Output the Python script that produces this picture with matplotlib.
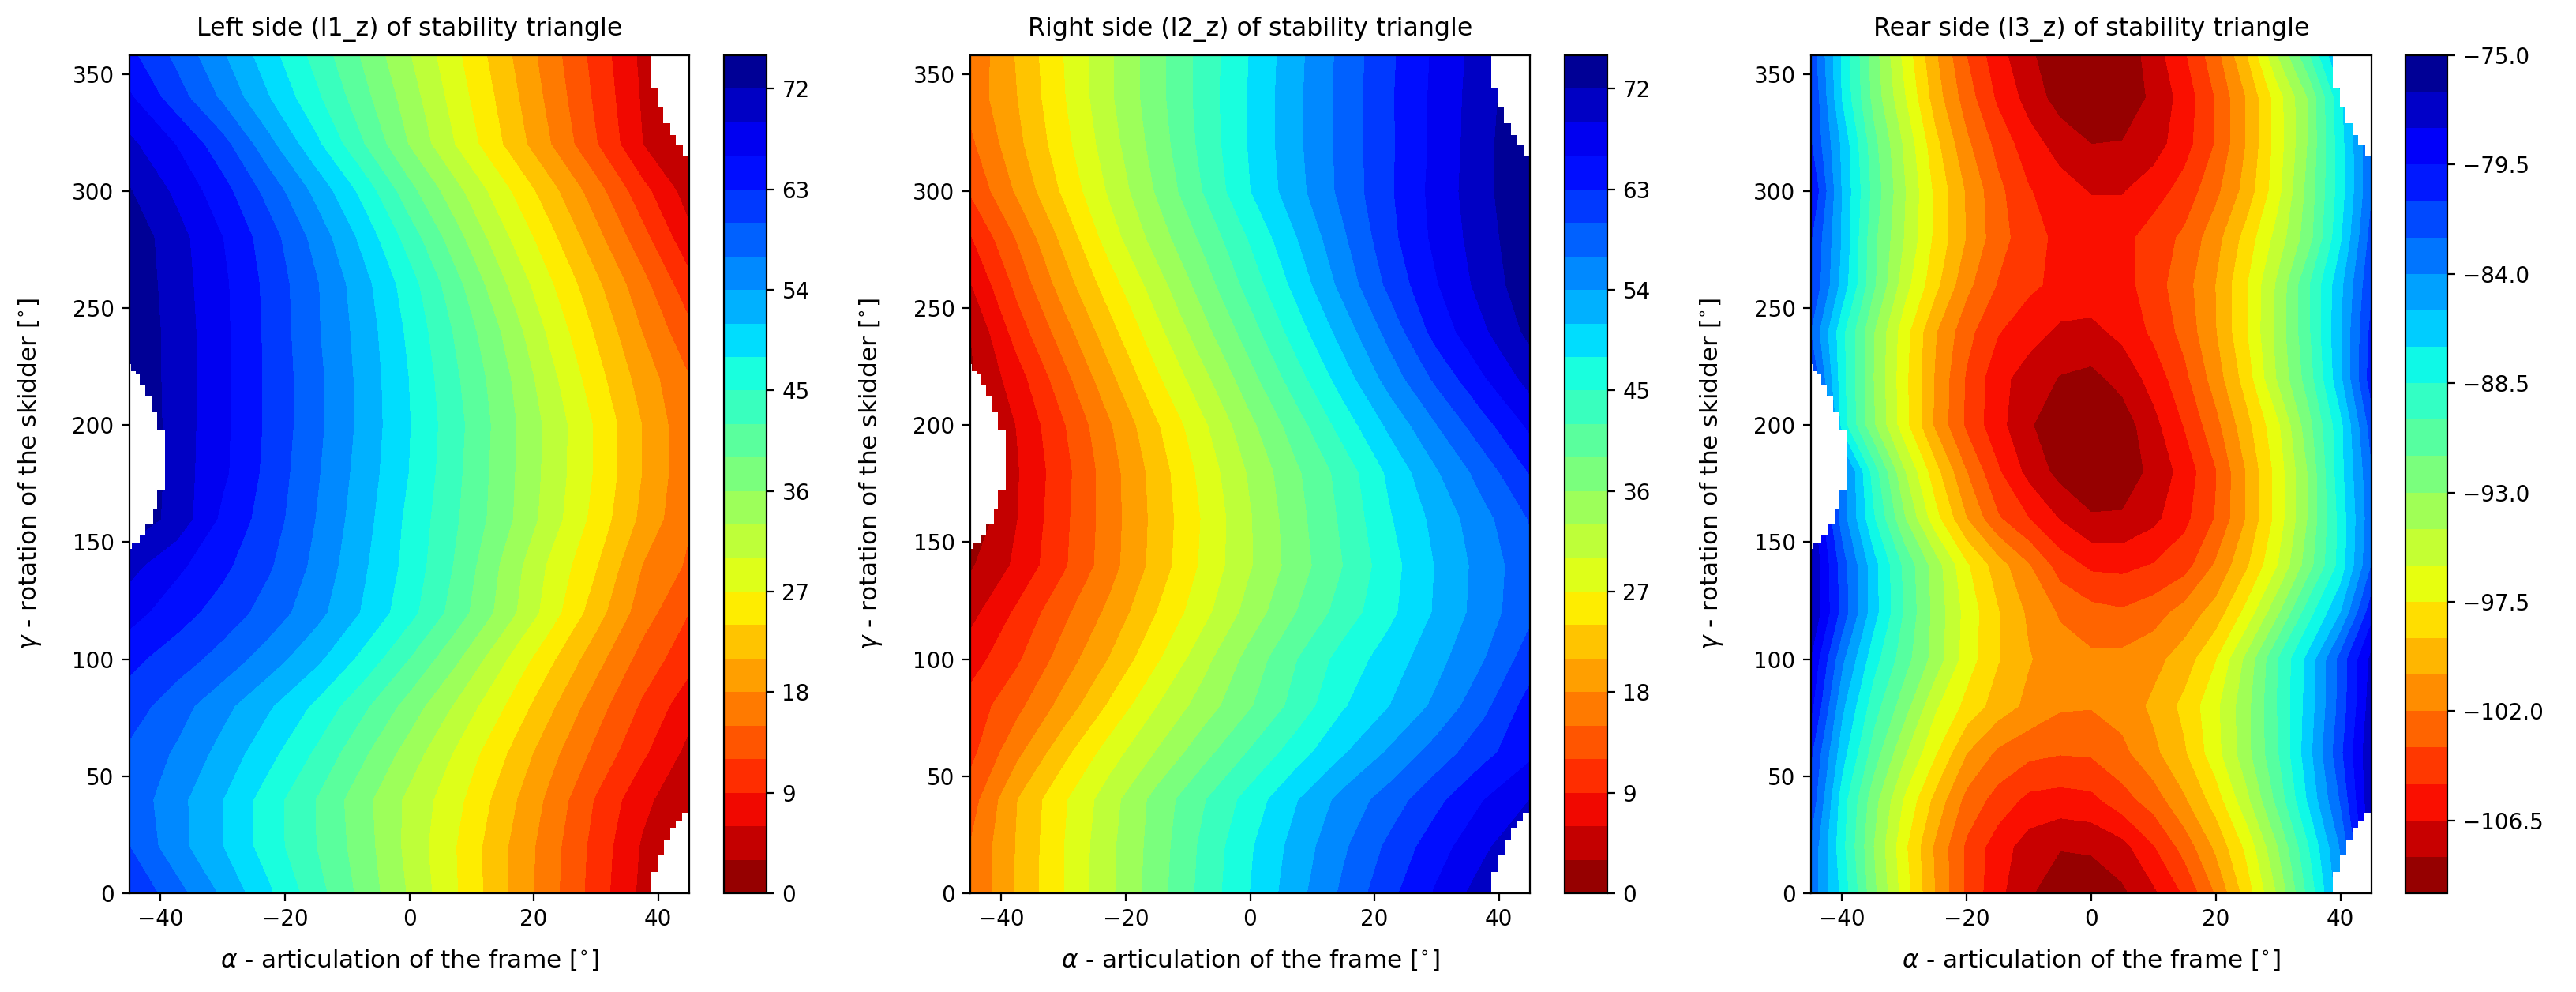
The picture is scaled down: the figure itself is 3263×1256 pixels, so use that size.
import matplotlib
matplotlib.use('Agg')
import matplotlib.pyplot as plt
import numpy as np

W, H = 3263, 1256

# sample points
alpha_12 = np.arange(-45, 45.1, 7.5)
alpha_3 = np.arange(-45, 45.1, 5)
gamma = np.arange(0, 361, 20)

l1_z = [
    [62.7, 58.2, 53.4, 48.4, 43.2, 38.0, 32.6, 27.2, 21.6, 16.2, 10.6, 5.2, 0.0],
    [60.0, 55.1, 51.0, 46.4, 42.0, 37.4, 32.0, 27.0, 21.6, 16.4, 10.9, 5.6, 1.5],
    [59.0, 55.0, 51.0, 46.4, 41.9, 37.0, 32.2, 27.9, 22.6, 17.3, 11.7, 6.8, 3.5],
    [59.4, 56.6, 52.9, 48.9, 44.5, 39.6, 34.6, 29.6, 24.5, 19.1, 14.2, 9.5, 5.1],
    [61.5, 58.3, 54.9, 51.3, 47.4, 42.7, 37.7, 32.5, 27.2, 21.7, 16.3, 11.5, 7.1],
    [63.8, 61.5, 58.8, 55.4, 51.7, 47.1, 41.9, 36.5, 30.5, 24.7, 19.1, 13.8, 10.0],
    [67.2, 64.3, 61.7, 58.7, 55.0, 50.7, 46.0, 40.6, 34.8, 28.6, 22.3, 16.4, 12.0],
    [70.0, 66.7, 63.7, 60.3, 56.2, 51.5, 46.9, 41.6, 35.5, 29.5, 24.2, 17.9, 14.5],
    [74.0, 71.0, 65.3, 61.5, 56.9, 52.2, 47.2, 42.3, 37.2, 31.6, 25.9, 20.2, 15.3],
    [75.5, 70.6, 66.6, 62.0, 57.4, 52.7, 47.9, 42.7, 37.4, 32.0, 26.6, 20.9, 15.7],
    [75.0, 70.7, 66.7, 62.3, 57.8, 53.1, 48.1, 43.0, 37.6, 32.1, 26.6, 20.9, 15.6],
    [74.7, 70.7, 66.7, 62.3, 57.8, 53.0, 47.9, 42.4, 37.0, 31.0, 25.2, 19.6, 15.1],
    [74.6, 70.7, 66.7, 62.2, 57.4, 52.7, 47.3, 41.5, 35.7, 29.4, 23.6, 17.9, 12.8],
    [74.4, 70.4, 66.6, 62.0, 57.3, 52.1, 46.3, 39.9, 33.5, 27.5, 21.7, 16.0, 10.0],
    [74.0, 70.2, 66.0, 61.3, 55.9, 50.1, 43.6, 37.1, 30.8, 25.0, 19.0, 13.0, 6.8],
    [72.2, 68.4, 64.1, 58.8, 53.1, 47.0, 40.0, 33.9, 28.0, 22.2, 16.3, 10.0, 4.5],
    [69.7, 65.9, 61.0, 54.8, 48.7, 42.2, 35.8, 29.8, 24.0, 18.2, 12.2, 6.0, 2.5],
    [66.4, 61.4, 56.4, 51.0, 45.6, 40.0, 34.4, 28.6, 23.0, 17.2, 11.4, 5.6, 1.0],
    [63.5, 59.0, 54.1, 48.9, 43.7, 38.4, 33.0, 27.5, 22.0, 16.4, 10.8, 5.2, 0.0],
]

l2_z = [
    [15.2, 21.3, 26.9, 32.4, 37.7, 43.0, 48.0, 52.9, 57.6, 62.2, 66.4, 70.5, 74.5],
    [15.1, 21.2, 26.9, 32.3, 37.4, 42.7, 47.6, 52.2, 56.5, 60.7, 64.7, 68.3, 72.0],
    [13.5, 20.9, 26.5, 31.7, 37.1, 41.7, 46.2, 50.8, 55.0, 58.4, 62.2, 65.9, 69.0],
    [11.1, 17.2, 23.0, 28.5, 33.2, 37.9, 42.3, 46.6, 50.7, 54.5, 58.3, 62.0, 65.3],
    [10.2, 14.1, 19.1, 24.5, 29.9, 34.4, 38.7, 43.1, 47.7, 51.0, 54.7, 59.1, 64.3],
    [7.6, 11.5, 16.3, 21.2, 26.5, 31.9, 37.1, 41.9, 46.2, 49.4, 53.0, 56.8, 61.5],
    [5.0, 9.5, 14.2, 18.8, 24.0, 29.0, 34.2, 39.0, 43.3, 47.3, 51.4, 55.4, 59.3],
    [2.6, 6.6, 11.5, 16.8, 22.2, 27.6, 32.7, 37.5, 42.0, 46.8, 51.2, 55.2, 59.0],
    [0.5, 5.9, 11.2, 16.6, 22.0, 27.3, 32.7, 37.9, 42.6, 47.7, 51.9, 56.0, 60.2],
    [1.0, 5.7, 10.9, 16.7, 22.3, 28.0, 33.4, 38.5, 43.2, 48.7, 53.7, 58.3, 63.2],
    [2.0, 6.1, 11.7, 17.7, 23.6, 29.4, 35.2, 40.6, 46.3, 51.7, 56.9, 61.9, 66.6],
    [2.5, 7.6, 13.9, 20.2, 26.4, 32.1, 37.9, 43.7, 49.5, 55.3, 60.7, 65.7, 70.1],
    [3.0, 10.3, 16.6, 22.9, 29.0, 34.9, 40.6, 46.5, 52.3, 58.1, 64.2, 68.5, 72.8],
    [5.8, 12.8, 19.4, 25.6, 31.6, 37.4, 43.2, 49.0, 55.0, 60.8, 65.8, 70.1, 74.0],
    [8.7, 15.2, 21.8, 28.5, 34.3, 39.7, 45.3, 50.9, 56.5, 62.1, 66.8, 70.6, 74.6],
    [12.3, 18.4, 24.5, 30.5, 36.3, 42.1, 47.9, 52.9, 57.9, 62.6, 67.1, 71.1, 74.9],
    [14.3, 20.1, 25.9, 31.7, 37.3, 42.9, 48.3, 53.3, 58.0, 62.5, 66.8, 71.0, 75.1],
    [16.0, 20.9, 26.7, 32.5, 37.9, 43.2, 48.3, 53.3, 58.1, 62.6, 66.8, 70.8, 74.6],
    [15.5, 21.3, 27.0, 32.5, 37.9, 43.1, 48.1, 53.1, 57.9, 62.4, 66.6, 70.5, 74.5],
]

l3_z = [
    [-83.0, -87.5, -92.6, -96.8, -100.6, -103.8, -106.1, -107.8, -109.0, -109.3, -108.3, -106.8, -104.8, -101.9, -98.3, -94.3, -89.5, -84.6, -80.0],
    [-82.8, -88.1, -93.0, -97.2, -100.8, -103.8, -105.8, -107.2, -107.9, -107.7, -107.0, -105.1, -102.9, -100.2, -97.1, -93.0, -88.5, -83.9, -77.5],
    [-81.5, -87.8, -92.4, -96.2, -99.5, -102.5, -104.1, -105.4, -105.6, -105.4, -104.1, -102.8, -100.7, -98.3, -94.9, -91.0, -86.7, -82.4, -76.8],
    [-80.8, -86.4, -90.7, -94.3, -97.4, -100.5, -102.3, -103.1, -103.4, -103.3, -102.4, -100.9, -99.2, -96.6, -93.5, -90.1, -86.0, -81.4, -76.7],
    [-79.1, -85.2, -89.3, -92.4, -95.8, -98.0, -99.7, -100.9, -101.8, -101.9, -101.4, -100.2, -98.6, -96.4, -93.5, -89.9, -86.3, -82.0, -77.2],
    [-78.1, -83.7, -87.9, -90.9, -93.7, -96.8, -98.9, -100.4, -101.3, -101.7, -101.6, -101.0, -99.8, -97.6, -94.1, -90.0, -86.5, -82.0, -77.6],
    [-76.5, -81.6, -86.4, -90.2, -93.6, -96.6, -98.9, -100.8, -102.2, -103.0, -103.3, -102.7, -101.4, -99.9, -97.0, -93.3, -89.1, -85.6, -80.1],
    [-76.5, -81.8, -86.4, -90.4, -93.8, -97.3, -99.8, -101.9, -104.2, -105.3, -105.4, -104.9, -104.1, -101.8, -99.2, -96.0, -92.1, -88.0, -82.5],
    [-77.0, -83.3, -88.3, -92.9, -97.0, -100.5, -103.3, -105.0, -106.6, -107.8, -107.8, -106.9, -105.4, -103.4, -100.4, -96.9, -92.8, -88.0, -83.0],
    [-78.0, -83.0, -89.2, -94.4, -98.5, -102.0, -104.8, -107.0, -108.5, -109.3, -108.9, -107.6, -105.9, -103.6, -100.4, -96.9, -92.8, -87.6, -82.7],
    [-77.0, -87.8, -92.8, -97.0, -100.8, -103.8, -106.0, -107.8, -109.2, -109.4, -108.8, -107.0, -104.9, -102.5, -99.5, -96.3, -92.0, -87.5, -81.8],
    [-81.0, -88.0, -93.0, -97.1, -100.7, -103.7, -106.0, -107.2, -108.1, -108.4, -107.5, -105.9, -103.9, -101.3, -98.3, -94.3, -90.7, -85.9, -80.2],
    [-82.6, -88.1, -92.9, -96.9, -100.4, -103.0, -104.9, -105.9, -106.8, -106.9, -106.1, -104.7, -103.0, -100.6, -97.6, -94.0, -90.2, -85.7, -80.6],
    [-81.0, -86.1, -91.2, -95.4, -98.6, -101.6, -103.6, -104.7, -105.4, -105.6, -105.6, -104.2, -102.6, -100.5, -97.6, -94.2, -90.1, -86.0, -81.2],
    [-80.9, -85.7, -91.1, -94.6, -97.9, -100.6, -102.9, -104.4, -105.4, -105.6, -105.5, -104.3, -103.2, -101.1, -98.4, -95.4, -92.1, -87.3, -81.9],
    [-79.5, -85.7, -90.5, -94.4, -97.9, -100.7, -103.1, -104.9, -105.9, -106.6, -106.6, -105.7, -104.4, -102.4, -99.9, -96.5, -92.4, -87.8, -82.7],
    [-80.9, -85.9, -91.0, -94.8, -98.6, -101.7, -104.0, -105.9, -107.1, -108.0, -107.9, -107.2, -105.6, -103.4, -100.4, -96.8, -92.8, -87.7, -82.7],
    [-81.0, -87.2, -92.0, -95.9, -99.8, -102.8, -105.3, -107.1, -108.7, -109.3, -109.3, -107.6, -105.9, -103.4, -100.4, -96.7, -92.8, -87.4, -82.0],
    [-81.6, -87.3, -92.3, -96.6, -100.4, -103.6, -106.0, -107.8, -109.0, -109.4, -109.1, -107.2, -105.1, -102.5, -98.9, -94.2, -89.9, -84.9, -80.0],
]

# outline of the part of the grid with no result, same on all three plots
notch_gamma = [147, 149.6, 153, 158, 164, 172, 198, 205.5, 212.6, 217.2, 222, 223, 226]
notch_alpha = [-44.6, -43.4, -42.4, -41.2, -40.5, -39.3, -40.5, -41.4, -42.5, -43.4, -44, -44.7, -45]
upper_gamma = [315, 319.5, 324, 329, 336, 344, 358]
upper_alpha = [44, 42.8, 42, 40.8, 39.9, 38.8, 38.8]
lower_gamma = [0, 9, 16.6, 22.5, 28, 31, 34.4]
lower_alpha = [38.8, 39.9, 40.9, 41.9, 42.8, 43.8, 45]

levels_12 = np.arange(0, 75.1, 3)
levels_3 = np.arange(-109.5, -74.9, 1.5)
ticks_12 = np.arange(0, 73, 9)
ticks_3 = np.arange(-106.5, -74.9, 4.5)

titles = ['Left side (l1_z) of stability triangle',
          'Right side (l2_z) of stability triangle',
          'Rear side (l3_z) of stability triangle']


def pixel_axes(fig, x0, x1, y0, y1):
    return fig.add_axes([x0 / W, 1 - y1 / H, (x1 - x0) / W, (y1 - y0) / H])


fig = plt.figure(figsize=(W / 200, H / 200), dpi=200)

panels = [
    (l1_z, alpha_12, levels_12, ticks_12, 164, 873, 917, 971),
    (l2_z, alpha_12, levels_12, ticks_12, 1229, 1938, 1982, 2036),
    (l3_z, alpha_3, levels_3, ticks_3, 2294, 3004, 3047, 3100),
]

for i, (z, alpha, levels, ticks, x0, x1, c0, c1) in enumerate(panels):
    ax = pixel_axes(fig, x0, x1, 70, 1131)
    cs = ax.contourf(alpha, gamma, np.array(z), levels=levels, cmap='jet_r')
    ax.fill_betweenx(notch_gamma, -45, notch_alpha, step='post', color='white', lw=0, zorder=2)
    ax.fill_betweenx(upper_gamma, upper_alpha, 45, step='post', color='white', lw=0, zorder=2)
    ax.fill_betweenx(lower_gamma, lower_alpha, 45, step='post', color='white', lw=0, zorder=2)
    ax.set_xlim(-45, 45)
    ax.set_ylim(0, 358)
    ax.set_xticks([-40, -20, 0, 20, 40])
    ax.set_yticks(np.arange(0, 351, 50))
    ax.tick_params(labelsize=10)
    ax.set_title(titles[i], fontsize=11.4, pad=9)
    ax.set_xlabel(r'$\alpha$ - articulation of the frame [$^{\circ}$]', fontsize=11.2, labelpad=8)
    ax.set_ylabel(r'$\gamma$ - rotation of the skidder [$^{\circ}$]', fontsize=11.2, labelpad=13)

    cax = pixel_axes(fig, c0, c1, 70, 1131)
    cb = fig.colorbar(cs, cax=cax)
    cb.set_ticks(ticks)

fig.savefig('out.png', dpi=200)
